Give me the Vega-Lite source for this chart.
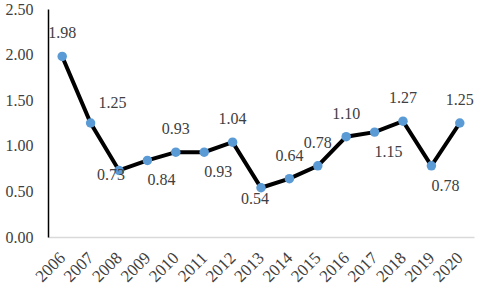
{
  "$schema": "https://vega.github.io/schema/vega-lite/v6.json",
  "width": 426,
  "height": 228,
  "autosize": {"type": "none"},
  "padding": {"left": 48, "top": 9, "right": 6, "bottom": 58},
  "background": "white",
  "config": {
    "view": {"stroke": null},
    "font": "Liberation Serif"
  },
  "data": {
    "values": [
      {"year": "2006", "value": 1.98},
      {"year": "2007", "value": 1.25},
      {"year": "2008", "value": 0.73},
      {"year": "2009", "value": 0.84},
      {"year": "2010", "value": 0.93},
      {"year": "2011", "value": 0.93},
      {"year": "2012", "value": 1.04},
      {"year": "2013", "value": 0.54},
      {"year": "2014", "value": 0.64},
      {"year": "2015", "value": 0.78},
      {"year": "2016", "value": 1.10},
      {"year": "2017", "value": 1.15},
      {"year": "2018", "value": 1.27},
      {"year": "2019", "value": 0.78},
      {"year": "2020", "value": 1.25}
    ]
  },
  "encoding": {
    "x": {
      "field": "year", "type": "ordinal",
      "scale": {"type": "point", "padding": 0.5},
      "axis": {
        "title": null, "labelAngle": -45, "labelAlign": "right", "labelBaseline": "middle",
        "labelFont": "Liberation Serif", "labelFontSize": 17, "labelColor": "#404040",
        "labelPadding": 18, "ticks": false, "domainColor": "#d9d9d9", "domainWidth": 1.5, "grid": false
      }
    },
    "y": {
      "field": "value", "type": "quantitative",
      "scale": {"domain": [0, 2.5], "nice": false, "zero": true},
      "axis": {
        "title": null, "values": [0, 0.5, 1, 1.5, 2, 2.5], "format": ".2f",
        "labelFont": "Liberation Serif", "labelFontSize": 16, "labelColor": "#404040",
        "labelPadding": 15, "ticks": false, "domainColor": "#000000", "domainWidth": 1.5, "grid": false
      }
    }
  },
  "layer": [
    {"mark": {"type": "line", "color": "#000000", "strokeWidth": 4}},
    {"mark": {"type": "point", "filled": true, "color": "#5b9bd5", "size": 90, "opacity": 1}},
    {
      "transform": [{"filter": {"field": "year", "oneOf": ["2006", "2010", "2012", "2014", "2015", "2016", "2018", "2020"]}}],
      "mark": {"type": "text", "dy": -23, "baseline": "middle", "fontSize": 16, "color": "#404040", "font": "Liberation Serif"},
      "encoding": {"text": {"field": "value", "type": "quantitative", "format": ".2f"}}
    },
    {
      "transform": [{"filter": {"field": "year", "oneOf": ["2007"]}}],
      "mark": {"type": "text", "dx": 22, "dy": -20, "baseline": "middle", "fontSize": 16, "color": "#404040", "font": "Liberation Serif"},
      "encoding": {"text": {"field": "value", "type": "quantitative", "format": ".2f"}}
    },
    {
      "transform": [{"filter": {"field": "year", "oneOf": ["2009", "2011", "2017", "2019"]}}],
      "mark": {"type": "text", "dx": 14, "dy": 20, "baseline": "middle", "fontSize": 16, "color": "#404040", "font": "Liberation Serif"},
      "encoding": {"text": {"field": "value", "type": "quantitative", "format": ".2f"}}
    },
    {
      "transform": [{"filter": {"field": "year", "oneOf": ["2008"]}}],
      "mark": {"type": "text", "dx": -8, "dy": 5, "baseline": "middle", "fontSize": 16, "color": "#404040", "font": "Liberation Serif"},
      "encoding": {"text": {"field": "value", "type": "quantitative", "format": ".2f"}}
    },
    {
      "transform": [{"filter": {"field": "year", "oneOf": ["2013"]}}],
      "mark": {"type": "text", "dx": -6, "dy": 11, "baseline": "middle", "fontSize": 16, "color": "#404040", "font": "Liberation Serif"},
      "encoding": {"text": {"field": "value", "type": "quantitative", "format": ".2f"}}
    }
  ]
}
